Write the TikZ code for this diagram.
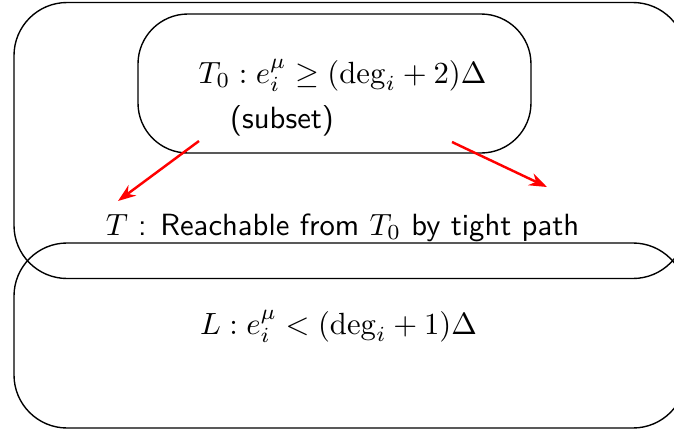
\documentclass[tikz,border=0pt]{standalone}
\usepackage{amsmath, amssymb}
\usetikzlibrary{arrows.meta}

\begin{document}
\begin{tikzpicture}[>={Stealth[length=5.8pt, width=4.2pt]}, x=0.326pt, y=-0.326pt,
  region/.style={draw, line width=0.45pt, rounded corners=17.3pt},
  lbl/.style={inner sep=0pt, anchor=base, font=\sffamily},
  move/.style={->, red, line width=0.8pt}]
  \useasboundingbox (0,0) rectangle (674,430);
  \clip (0,0) rectangle (674,430);
  % the three sets
  \draw[region] (14,2.5) rectangle (686,278.5);
  \draw[region] (14,243) rectangle (686,428);
  \draw[region, rounded corners=16.3pt] (138,14) rectangle (531,153);
  \node[lbl] (tzero) at (342.5,83) {$T_0 : e_i^{\mu} \geq ({\deg_i} + 2)\Delta$};
  \node[lbl] (subset) at (282,128) {(subset)};
  \node[lbl] (tight) at (342.5,235) {$T$ : Reachable from $T_0$ by tight path};
  \node[lbl] (lset) at (338.5,334) {$L : e_i^{\mu} < ({\deg_i} + 1)\Delta$};
  % tight paths leaving T0
  \coordinate (lfrom) at (199,141);
  \coordinate (lto) at (118,201);
  \coordinate (rfrom) at (452,142);
  \coordinate (rto) at (547,187);
  \draw[move] (lfrom) -- (lto);
  \draw[move] (rfrom) -- (rto);
\end{tikzpicture}
\end{document}
